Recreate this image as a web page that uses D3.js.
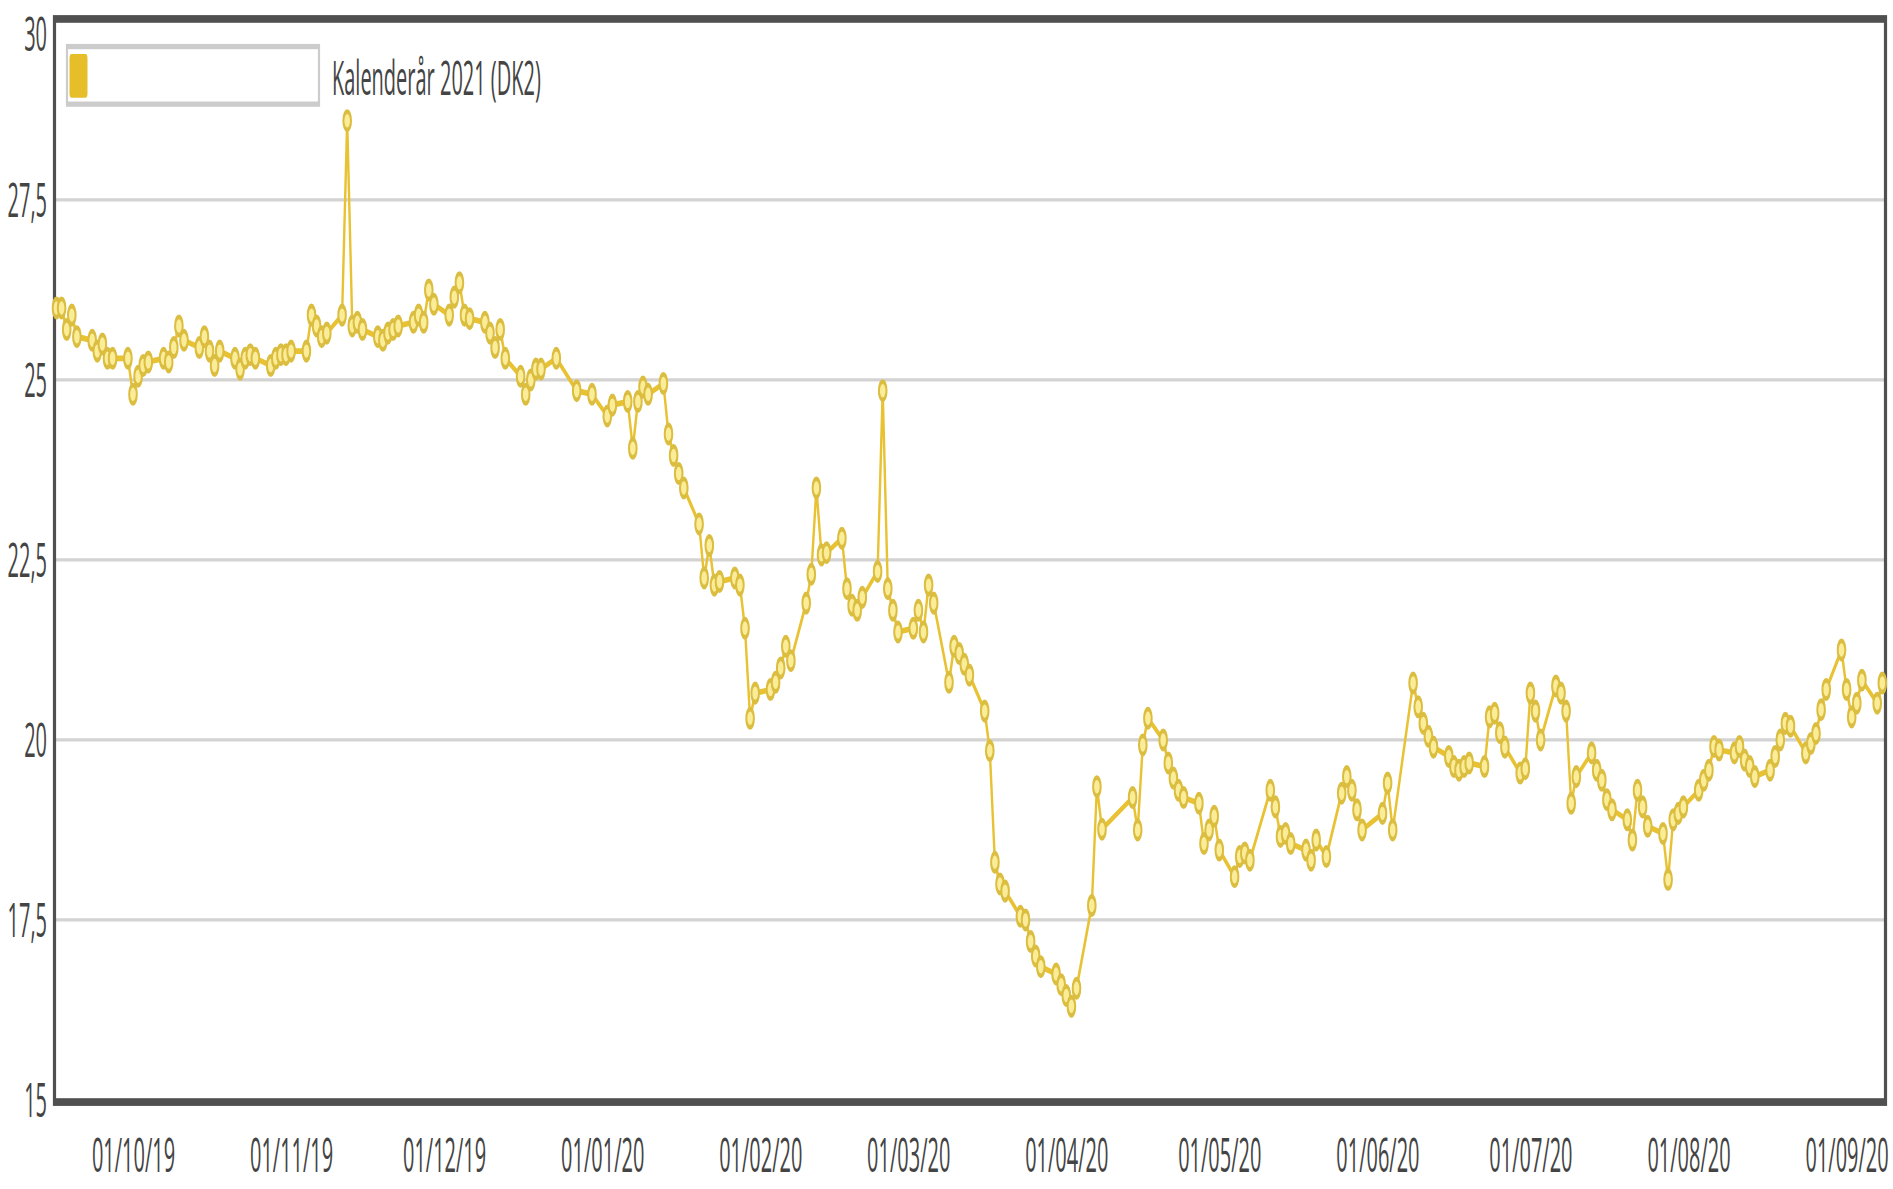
<!DOCTYPE html>
<html>
<head>
    <meta charset="utf-8">
    <title>Kalenderår 2021 (DK2)</title>
    <script src="https://d3js.org/d3.v7.min.js"></script>
    <style>
        body, html {
            margin: 0;
            padding: 0;
            background: #ffffff;
            overflow: hidden;
        }
        text {
            font-family: 'Open Sans', 'Noto Sans', sans-serif;
            fill: #444;
        }
    </style>
</head>
<body>
<script>
    // --- data ---
    const seriesName = "Kalenderår 2021 (DK2)";
    const firstDay = "2019-09-16";
    const lastDay = "2020-09-08";
    // days with no quote (gaps in the line)
    const holidays = ["2019-12-24", "2019-12-25", "2019-12-26", "2019-12-31", "2020-01-01",
                      "2020-04-09", "2020-04-10", "2020-04-13", "2020-05-08", "2020-05-21",
                      "2020-06-01", "2020-06-05"];
    // one close per trading day, in order
    const prices = [
        26.0, 26.0, 25.7, 25.9, 25.6, 25.55, 25.4, 25.5, 25.3, 25.3,
        25.3, 24.8, 25.05, 25.2, 25.25, 25.3, 25.25, 25.45, 25.75, 25.55,
        25.45, 25.6, 25.4, 25.2, 25.4, 25.3, 25.15, 25.3, 25.35, 25.3,
        25.2, 25.3, 25.35, 25.35, 25.4, 25.4, 25.9, 25.75, 25.6, 25.65,
        25.9, 28.6, 25.75, 25.8, 25.7, 25.6, 25.55, 25.65, 25.7, 25.75,
        25.8, 25.9, 25.8, 26.25, 26.05, 25.9, 26.15, 26.35, 25.9, 25.85,
        25.8, 25.65, 25.45, 25.7, 25.3, 25.05, 24.8, 25.0, 25.15, 25.15,
        25.3, 24.85, 24.8,
        24.5, 24.65, 24.7, 24.05, 24.7, 24.9, 24.8, 24.95, 24.25, 23.95,
        23.7, 23.5, 23.0, 22.25, 22.7, 22.15, 22.2, 22.25, 22.15, 21.55,
        20.3, 20.65, 20.7, 20.8, 21.0, 21.3, 21.1, 21.9, 22.3, 23.5,
        22.57, 22.6, 22.8, 22.1, 21.87, 21.8, 21.98, 22.34, 24.85, 22.1,
        21.8, 21.5, 21.55, 21.8, 21.5, 22.15, 21.9, 20.8, 21.3, 21.2,
        21.05, 20.9, 20.4, 19.85, 18.3, 18.0, 17.9, 17.55, 17.5, 17.2,
        17.0, 16.85, 16.75, 16.6, 16.45, 16.3, 16.55, 17.7, 19.35, 18.76,
        19.2, 18.75, 19.93, 20.3, 20.0, 19.68, 19.47, 19.3, 19.2, 19.12,
        18.56, 18.75, 18.94, 18.47, 18.1, 18.38, 18.43, 18.33,
        19.3, 19.07, 18.66, 18.7, 18.56, 18.47, 18.33, 18.61,
        18.38, 19.26, 19.49, 19.3, 19.03, 18.75,
        18.98, 19.4, 18.75,
        20.79, 20.46, 20.23, 20.05, 19.9, 19.77, 19.63, 19.58, 19.63, 19.68,
        19.63, 20.32, 20.37, 20.1, 19.9, 19.54, 19.6, 20.65, 20.4, 20.0,
        20.75, 20.65, 20.4, 19.12, 19.49, 19.82, 19.58, 19.44, 19.17, 19.03,
        18.89, 18.61, 19.3, 19.07, 18.8, 18.7, 18.06, 18.89, 18.98, 19.07,
        19.3, 19.44, 19.58, 19.91, 19.86, 19.82, 19.91, 19.72, 19.63, 19.49,
        19.58, 19.77, 20.0, 20.23, 20.19, 19.82, 19.95, 20.09, 20.42, 20.7,
        21.25, 20.7, 20.32, 20.51, 20.83, 20.51, 20.79
    ];
    const yTicks = [15, 17.5, 20, 22.5, 25, 27.5, 30];
    const monthTicks = ["2019-10-01", "2019-11-01", "2019-12-01", "2020-01-01", "2020-02-01",
                        "2020-03-01", "2020-04-01", "2020-05-01", "2020-06-01", "2020-07-01",
                        "2020-08-01", "2020-09-01"];

    // the picture is stretched vertically, so draw in a short box and let the svg stretch it
    const width = 1893, height = 1189;
    const stretch = 2.4;
    const vbHeight = height / stretch;

    const parse = d3.timeParse("%Y-%m-%d");
    const key = d3.timeFormat("%Y-%m-%d");
    const offDays = new Set(holidays);
    const days = d3.timeDay.range(parse(firstDay), d3.timeDay.offset(parse(lastDay), 1))
        .filter(d => d.getDay() !== 0 && d.getDay() !== 6 && !offDays.has(key(d)));
    if (days.length !== prices.length) console.warn("length mismatch", days.length, prices.length);
    const data = days.map((d, i) => ({date: d, value: prices[i]}));

    const x = d3.scaleTime()
        .domain([parse(firstDay), parse(lastDay)])
        .range([56.5, 56.5 + 5.1 * 358]);
    const y = d3.scaleLinear()
        .domain([15, 30])
        .range([458.3, 8.3]);

    const svg = d3.select("body").append("svg")
        .attr("width", width)
        .attr("height", height)
        .attr("viewBox", [0, 0, width, vbHeight])
        .attr("preserveAspectRatio", "none")
        .style("display", "block");

    // grid
    svg.append("g")
        .selectAll("line")
        .data(yTicks)
        .join("line")
            .attr("x1", 54)
            .attr("x2", 1886)
            .attr("y1", d => y(d))
            .attr("y2", d => y(d))
            .attr("stroke", "#d3d3d3")
            .attr("stroke-width", 1.3);

    // y axis labels
    const commaFmt = v => String(v).replace(".", ",");
    const yAxis = svg.append("g")
        .attr("transform", "translate(54,0)")
        .call(d3.axisLeft(y).tickValues(yTicks).tickSize(0).tickPadding(7).tickFormat(commaFmt));
    yAxis.select(".domain").remove();
    yAxis.selectAll("text")
        .attr("font-size", 20)
        .attr("font-family", "'Open Sans', 'Noto Sans', sans-serif")
        .attr("fill", "#444")
        .attr("dy", d => d === 30 ? "0.62em" : "0.34em");

    // x axis labels
    const xAxis = svg.append("g")
        .attr("transform", "translate(0,459)")
        .call(d3.axisBottom(x).tickValues(monthTicks.map(parse)).tickSize(0).tickPadding(15)
            .tickFormat(d3.timeFormat("%d/%m/%y")));
    xAxis.select(".domain").remove();
    xAxis.selectAll("text")
        .attr("font-size", 20)
        .attr("font-family", "'Open Sans', 'Noto Sans', sans-serif")
        .attr("fill", "#444");

    // frame
    svg.append("rect")
        .attr("x", 54.5)
        .attr("y", 7.9)
        .attr("width", 1831)
        .attr("height", 451.3)
        .attr("fill", "none")
        .attr("stroke", "#505050")
        .attr("stroke-width", 3.2);

    // series
    const line = d3.line()
        .x(d => x(d.date))
        .y(d => y(d.value));

    svg.append("path")
        .datum(data)
        .attr("fill", "none")
        .attr("stroke", "#e8c232")
        .attr("stroke-width", 2.4)
        .attr("d", line);

    svg.append("g")
        .selectAll("circle")
        .data(data)
        .join("circle")
            .attr("cx", d => x(d.date))
            .attr("cy", d => y(d.value))
            .attr("r", 3.8)
            .attr("fill", "#fbec98")
            .attr("stroke", "#dbbd40")
            .attr("stroke-width", 2);

    // legend
    const legend = svg.append("g");
    legend.append("rect")
        .attr("x", 67)
        .attr("y", 19.4)
        .attr("width", 252)
        .attr("height", 24)
        .attr("fill", "#fff")
        .attr("stroke", "#cccccc")
        .attr("stroke-width", 2.2);
    legend.append("rect")
        .attr("x", 69.5)
        .attr("y", 22.5)
        .attr("width", 18)
        .attr("height", 18.2)
        .attr("rx", 2)
        .attr("fill", "#e6be2a");
    legend.append("text")
        .attr("x", 332)
        .attr("y", 39.4)
        .attr("font-size", 20)
        .text(seriesName);
</script>
</body>
</html>
